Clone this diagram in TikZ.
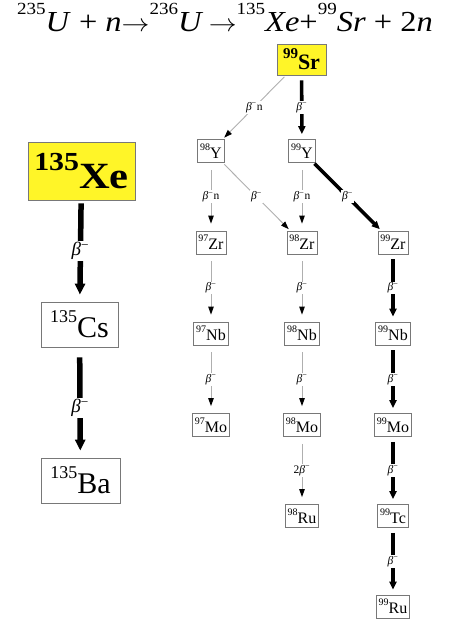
\documentclass[tikz,border=0pt]{standalone}
\usepackage{fontspec}
\setmainfont{Liberation Serif}
\usetikzlibrary{arrows.meta}
\definecolor{boxyellow}{RGB}{255,245,40}
\definecolor{boxline}{RGB}{120,120,120}
\definecolor{thinline}{RGB}{175,175,175}
\newcommand{\iso}[4]{{\fontsize{#3}{#3}\selectfont\raisebox{0.5em}{\fontsize{#1}{#1}\selectfont #2}#4}}
\newcommand{\tsup}[1]{\raisebox{0.62em}{\fontsize{17}{17}\selectfont #1}}
\newcommand{\bminus}{\textit{β}\textsuperscript{−}}
\tikzset{
  isobox/.style={draw=boxline, line width=0.8pt, fill=white, inner xsep=2.5pt, inner ysep=0pt, minimum height=23pt},
  bigbox/.style={draw=boxline, line width=0.8pt, fill=white, inner sep=0pt},
  weakarrow/.style={draw=thinline, line width=0.9pt, -{Triangle[black,width=5.5pt,length=8pt]}, shorten <=7pt, shorten >=7pt},
  diagweak/.style={weakarrow, shorten <=2pt, shorten >=2pt},
  strongarrow/.style={draw=black, line width=3.6pt, -{Triangle[width=7pt,length=8pt]}, shorten <=5pt, shorten >=5pt},
  diagstrong/.style={strongarrow, shorten <=1pt, shorten >=2pt},
  heavyarrow/.style={draw=black, line width=5.5pt, -{Triangle[width=10pt,length=11pt]}, shorten <=3pt, shorten >=7pt},
  lab/.style={fill=white, inner sep=1pt, font=\fontsize{11.5}{11.5}\selectfont},
  biglab/.style={fill=white, inner sep=1pt, font=\fontsize{19}{19}\selectfont}
}
\begin{document}
\begin{tikzpicture}[x=1pt,y=-1pt]
\useasboundingbox (0,0) rectangle (451,620);
\node[anchor=base, inner sep=0pt] (title) at (225,32) {\scalebox{1.12}[1]{\fontsize{29}{29}\selectfont \tsup{235}\textit{U} + \textit{n}$\rightarrow$\tsup{236}\textit{U}\,$\rightarrow$\tsup{135}\textit{Xe}+\tsup{99}\textit{Sr} + 2\textit{n}}};
% left chain
\node[bigbox, fill=boxyellow, minimum width=107pt, minimum height=58pt] (xe) at (81.5,171) {\bfseries\scalebox{1.15}[1]{\iso{26}{135}{37}{Xe}}};
\node[bigbox, minimum width=77pt, minimum height=45pt] (cs) at (79.5,324.5) {\iso{18}{135}{30}{Cs}};
\node[bigbox, minimum width=79pt, minimum height=45pt] (ba) at (80.5,480.5) {\iso{18}{135}{30}{Ba}};
\draw[heavyarrow] (xe) -- node[biglab]{\bminus} (cs);
\draw[heavyarrow, shorten <=10pt] (cs) -- node[biglab, pos=0.55]{\bminus} (ba);
% right tree
\node[bigbox, fill=boxyellow, minimum width=49pt, minimum height=31pt] (sr) at (301.5,59.5) {\bfseries\iso{15}{99}{22}{Sr}};
\node[isobox] (y98) at (211,151) {\iso{10}{98}{16}{Y}};
\node[isobox] (y99) at (302,151) {\iso{10}{99}{16}{Y}};
\node[isobox] (zr97) at (211,242.5) {\iso{10}{97}{16}{Zr}};
\node[isobox] (zr98) at (302,242.5) {\iso{10}{98}{16}{Zr}};
\node[isobox] (zr99) at (393,242.5) {\iso{10}{99}{16}{Zr}};
\node[isobox] (nb97) at (211,333.5) {\iso{10}{97}{16}{Nb}};
\node[isobox] (nb98) at (302,333.5) {\iso{10}{98}{16}{Nb}};
\node[isobox] (nb99) at (393,333.5) {\iso{10}{99}{16}{Nb}};
\node[isobox] (mo97) at (211,425) {\iso{10}{97}{16}{Mo}};
\node[isobox] (mo98) at (302,425) {\iso{10}{98}{16}{Mo}};
\node[isobox] (mo99) at (393,425) {\iso{10}{99}{16}{Mo}};
\node[isobox] (ru98) at (302,516) {\iso{10}{98}{16}{Ru}};
\node[isobox] (tc99) at (393,516) {\iso{10}{99}{16}{Tc}};
\node[isobox] (ru99) at (393,606.5) {\iso{10}{99}{16}{Ru}};
\draw[diagweak] (sr) -- node[lab]{\bminus n} (y98);
\draw[strongarrow] (sr) -- node[lab]{\bminus} (y99);
\draw[weakarrow] (y98) -- node[lab]{\bminus n} (zr97);
\draw[diagweak] (y98) -- node[lab]{\bminus} (zr98);
\draw[weakarrow] (y99) -- node[lab]{\bminus n} (zr98);
\draw[diagstrong] (y99) -- node[lab]{\bminus} (zr99);
\draw[weakarrow] (zr97) -- node[lab]{\bminus} (nb97);
\draw[weakarrow] (zr98) -- node[lab]{\bminus} (nb98);
\draw[strongarrow] (zr99) -- node[lab]{\bminus} (nb99);
\draw[weakarrow] (nb97) -- node[lab]{\bminus} (mo97);
\draw[weakarrow] (nb98) -- node[lab]{\bminus} (mo98);
\draw[strongarrow] (nb99) -- node[lab]{\bminus} (mo99);
\draw[weakarrow] (mo98) -- node[lab]{2\bminus} (ru98);
\draw[strongarrow] (mo99) -- node[lab]{\bminus} (tc99);
\draw[strongarrow] (tc99) -- node[lab]{\bminus} (ru99);
\end{tikzpicture}
\end{document}
